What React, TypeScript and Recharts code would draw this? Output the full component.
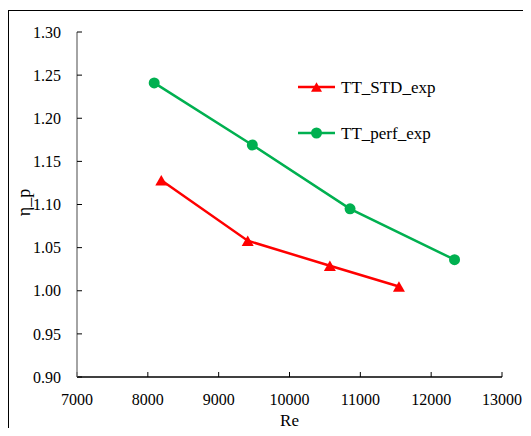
import React from 'react';
import { LineChart, Line, XAxis, YAxis, Legend } from 'recharts';

// Measured efficiency vs Reynolds number for two tube types
const stdRe = [8190, 9410, 10570, 11545];
const stdEta = [1.128, 1.058, 1.029, 1.005];
const perfRe = [8090, 9475, 10855, 12330];
const perfEta = [1.241, 1.169, 1.095, 1.036];

const xTicks = [7000, 8000, 9000, 10000, 11000, 12000, 13000];
const yTicks = [0.9, 0.95, 1.0, 1.05, 1.1, 1.15, 1.2, 1.25, 1.3];

const stdData = stdRe.map((re, i) => ({ re, eta: stdEta[i] }));
const perfData = perfRe.map((re, i) => ({ re, eta: perfEta[i] }));

const FONT = '"Liberation Serif", "Times New Roman", serif';
const RED = '#ff0000';
const GREEN = '#00b050';
const GREY_AXIS = '#868686';

const Triangle = (props: any) => {
  const { cx, cy, fill, size = 6 } = props;
  if (cx == null || cy == null) return null;
  const h = size * 1.75;
  const pts = `${cx},${cy - h / 2} ${cx - size},${cy + h / 2} ${cx + size},${cy + h / 2}`;
  return <polygon points={pts} fill={fill} />;
};

const Circle = (props: any) => {
  const { cx, cy, fill, r = 5.5 } = props;
  if (cx == null || cy == null) return null;
  return <circle cx={cx} cy={cy} r={r} fill={fill} />;
};

const renderLegend = (props: any) => {
  const { payload } = props;
  return (
    <div>
      {payload.map((entry: any) => {
        const color = entry.color;
        const isStd = entry.value === 'TT_STD_exp';
        return (
          <div
            key={entry.value}
            style={{ display: 'flex', alignItems: 'center', height: 46 }}
          >
            <svg width={37} height={14} style={{ display: 'block' }}>
              <line x1={0} y1={7} x2={37} y2={7} stroke={color} strokeWidth={2.5} />
              {isStd ? (
                <Triangle cx={18.5} cy={7} fill={color} size={5.5} />
              ) : (
                <Circle cx={18.5} cy={7} fill={color} r={5.5} />
              )}
            </svg>
            <span
              style={{
                marginLeft: 6,
                fontFamily: FONT,
                fontSize: 17,
                color: '#000',
                lineHeight: 1,
              }}
            >
              {entry.value}
            </span>
          </div>
        );
      })}
    </div>
  );
};

const YLabel = (props: any) => {
  const { viewBox } = props;
  const x = viewBox.x + 30;
  const y = viewBox.y + viewBox.height / 2 - 2;
  return (
    <text
      x={x}
      y={y}
      transform={`rotate(-90, ${x}, ${y})`}
      textAnchor="middle"
      fontFamily={FONT}
      fontSize={18}
      fill="#000"
    >
      η_p
    </text>
  );
};

export default function App() {
  return (
    <div
      style={{
        position: 'relative',
        width: 531,
        height: 436,
        margin: -8,
        overflow: 'hidden',
        background: '#fff',
      }}
    >
      <div style={{ position: 'absolute', left: 0, top: 0 }}>
        <LineChart
          width={531}
          height={436}
          margin={{ top: 32, right: 29, bottom: 0, left: 0 }}
        >
          <XAxis
            xAxisId="main"
            dataKey="re"
            type="number"
            domain={[7000, 13000]}
            ticks={xTicks}
            allowDataOverflow
            height={59}
            tickSize={-5}
            tickMargin={22}
            axisLine={{ stroke: '#000', strokeWidth: 1.5 }}
            tickLine={{ stroke: '#000' }}
            tick={{ fontFamily: FONT, fontSize: 16, fill: '#000' }}
            label={{
              value: 'Re',
              position: 'insideBottom',
              offset: 10,
              fontFamily: FONT,
              fontSize: 17,
              fill: '#000',
            }}
          />
          <XAxis
            xAxisId="top"
            orientation="top"
            type="number"
            domain={[7000, 13000]}
            height={0}
            tick={false}
            tickLine={false}
            axisLine={{ stroke: '#000', strokeWidth: 1.5 }}
          />
          <YAxis
            yAxisId="main"
            type="number"
            domain={[0.9, 1.3]}
            ticks={yTicks}
            allowDataOverflow
            width={77}
            tickSize={-5}
            tickMargin={21}
            tickFormatter={(v: number) => v.toFixed(2)}
            axisLine={{ stroke: GREY_AXIS, strokeWidth: 1.5 }}
            tickLine={{ stroke: '#000' }}
            tick={{ fontFamily: FONT, fontSize: 16, fill: '#000' }}
            label={{ content: YLabel }}
          />
          <YAxis
            yAxisId="right"
            orientation="right"
            type="number"
            domain={[0.9, 1.3]}
            width={0}
            tick={false}
            tickLine={false}
            axisLine={{ stroke: GREY_AXIS, strokeWidth: 1.5 }}
          />
          <Legend
            layout="vertical"
            verticalAlign="middle"
            align="center"
            content={renderLegend}
            wrapperStyle={{ position: 'absolute', left: 298, top: 64, width: 200 }}
          />
          <Line
            xAxisId="main"
            yAxisId="main"
            data={stdData}
            dataKey="eta"
            name="TT_STD_exp"
            stroke={RED}
            strokeWidth={2.5}
            dot={<Triangle fill={RED} size={6} />}
            activeDot={false}
            isAnimationActive={false}
          />
          <Line
            xAxisId="main"
            yAxisId="main"
            data={perfData}
            dataKey="eta"
            name="TT_perf_exp"
            stroke={GREEN}
            strokeWidth={2.5}
            dot={<Circle fill={GREEN} r={5.5} />}
            activeDot={false}
            isAnimationActive={false}
          />
        </LineChart>
      </div>
      {/* outer frame: only its left and top edges fall inside the page */}
      <div
        style={{
          position: 'absolute',
          left: 8,
          top: 10,
          width: 700,
          height: 700,
          border: '1.5px solid #000',
          boxSizing: 'border-box',
          pointerEvents: 'none',
        }}
      />
    </div>
  );
}
